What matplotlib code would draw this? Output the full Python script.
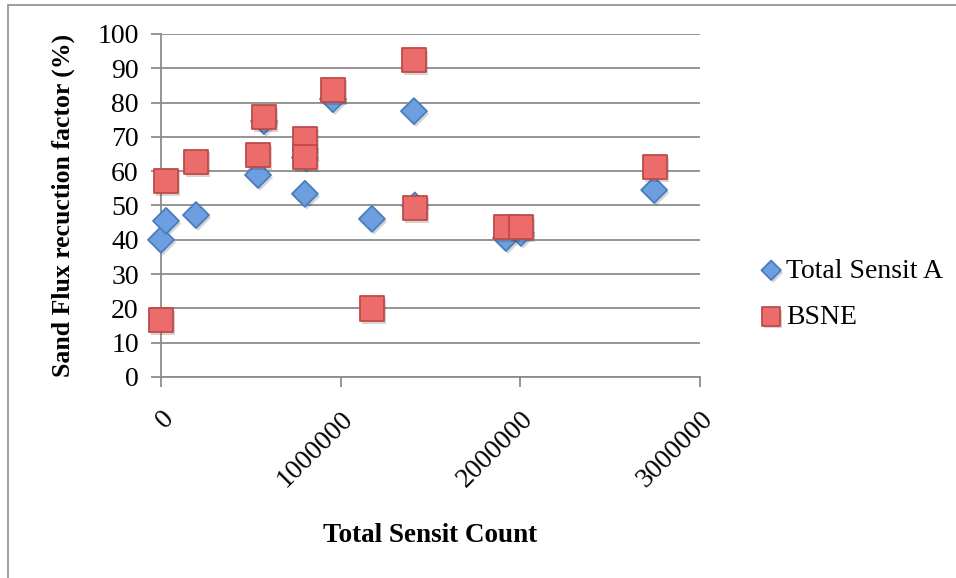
import matplotlib.pyplot as plt
import matplotlib.patheffects as pe
from matplotlib.patches import Rectangle

# Total Sensit count vs. sand flux reduction factor
sensit_x = [0, 28000, 195000, 540000, 573000, 801000, 801000, 957000,
            1174000, 1408000, 1413000, 1920000, 2003000, 2745000]
sensit_a = [40, 45.5, 47.2, 58.9, 74.6, 53.4, 64, 81,
            46.1, 77.5, 50, 40.5, 42, 54.5]

bsne_x = [0, 28000, 195000, 540000, 573000, 801000, 801000, 957000,
          1174000, 1408000, 1413000, 1920000, 2003000, 2749000]
bsne = [16.6, 57.1, 62.7, 64.7, 75.8, 69.4, 64.1, 83.7,
        19.9, 92.4, 49.3, 43.7, 43.7, 61.2]

plt.rcParams['font.family'] = ['Liberation Serif', 'DejaVu Serif']

fig = plt.figure(figsize=(9.56, 5.78), dpi=100)
ax = fig.add_axes([0.1684, 0.3478, 0.5638, 0.5934])

# chart frame, only top and left edges visible
fig.patches.append(Rectangle((8 / 956, -0.1), 1.2, (578 - 5) / 578 + 0.1,
                             transform=fig.transFigure, fill=False,
                             edgecolor='#8c8c8c', linewidth=1.2))

shadow = [pe.SimplePatchShadow(offset=(1.5, -2), alpha=0.2), pe.Normal()]
ax.scatter(sensit_x, sensit_a, marker='D', s=175, facecolor='#6c9ee0',
           edgecolor='#4a7ebb', linewidth=1.3, zorder=3, clip_on=False,
           path_effects=shadow, label='Total Sensit A')
ax.scatter(bsne_x, bsne, marker='s', s=310, facecolor='#ec6b6b',
           edgecolor='#be4b48', linewidth=1.3, zorder=4, clip_on=False,
           path_effects=shadow, label='BSNE')

ax.set_xlim(0, 3000000)
ax.set_ylim(0, 100)
ax.set_xticks([0, 1000000, 2000000, 3000000])
ax.set_xticklabels(['0', '1000000', '2000000', '3000000'], rotation=45,
                   ha='right', va='top', rotation_mode='anchor')
ax.set_yticks(range(0, 101, 10))
ax.tick_params(axis='both', labelsize=20, color='#8c8c8c', length=7, width=1.3)
ax.tick_params(axis='x', pad=14)
ax.tick_params(axis='y', pad=9)

ax.grid(axis='y', color='#8c8c8c', linewidth=1.3)
ax.set_axisbelow(True)
for side in ['top', 'right']:
    ax.spines[side].set_visible(False)
for side in ['left', 'bottom']:
    ax.spines[side].set_color('#8c8c8c')
    ax.spines[side].set_linewidth(1.3)

ax.set_xlabel('Total Sensit Count', fontsize=19.5, fontweight='bold', labelpad=22)
ax.set_ylabel('Sand Flux recuction factor (%)', fontsize=18.5, fontweight='bold',
              labelpad=16)

leg = ax.legend(loc='center left', bbox_to_anchor=(1.06, 0.242), frameon=False,
                fontsize=20, handletextpad=0.05, labelspacing=0.75,
                handlelength=1.0, markerscale=0.75)

fig.savefig('out.png', dpi=100)
